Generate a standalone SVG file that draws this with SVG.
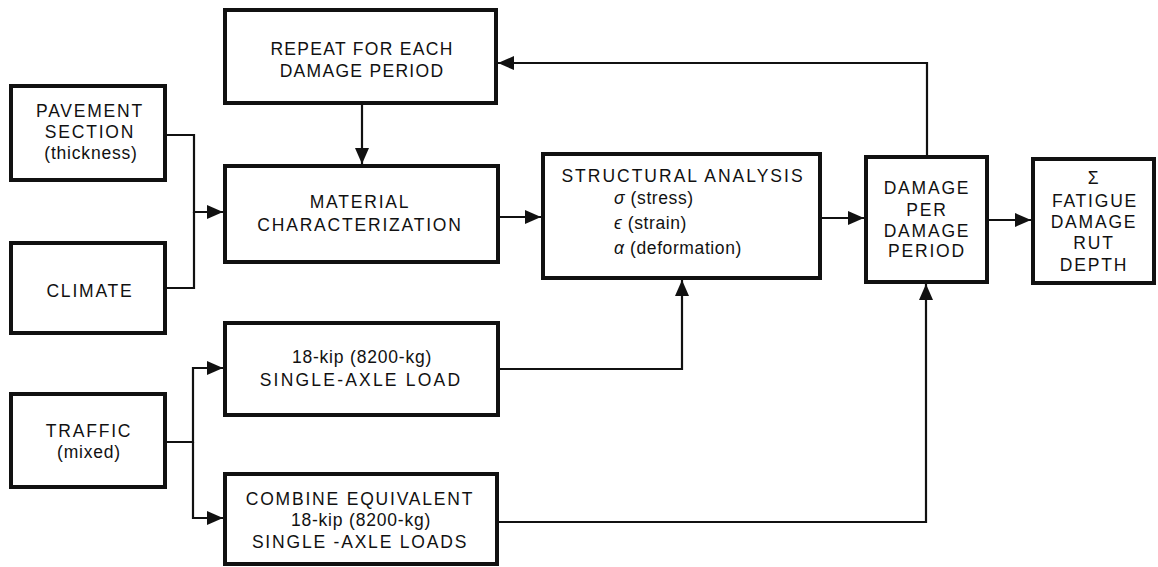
<svg xmlns="http://www.w3.org/2000/svg" width="1158" height="567" viewBox="0 0 1158 567">
<style>
.box{fill:#fff;stroke:#111;stroke-width:4}
.con{fill:none;stroke:#111;stroke-width:2.2}
text{font-family:"Liberation Sans",Arial,sans-serif;font-size:17.5px;fill:#111;letter-spacing:1.8px;text-anchor:middle}
.lc{letter-spacing:0.8px}
.st{text-anchor:start;letter-spacing:0.6px}
.gr{font-style:italic}
</style>
<defs>
<marker id="ah" markerUnits="userSpaceOnUse" markerWidth="16" markerHeight="14" viewBox="0 0 16 14" refX="16" refY="7" orient="auto">
<path d="M0,0 L16,7 L0,14 z" fill="#111"/>
</marker>
</defs>
<rect width="1158" height="567" fill="#fff"/>
<g id="connectors">
<path class="con" d="M165,135 H194 V212 H223" marker-end="url(#ah)"/>
<path class="con" d="M165,288 H194 V212"/>
<path class="con" d="M362,103 V164" marker-end="url(#ah)"/>
<path class="con" d="M498,217 H541" marker-end="url(#ah)"/>
<path class="con" d="M820,218 H864" marker-end="url(#ah)"/>
<path class="con" d="M987,220 H1031" marker-end="url(#ah)"/>
<path class="con" d="M927,157 V63 H498" marker-end="url(#ah)"/>
<path class="con" d="M165,442 H193 V368 H223" marker-end="url(#ah)"/>
<path class="con" d="M193,442 V518 H223" marker-end="url(#ah)"/>
<path class="con" d="M498,369 H682 V280" marker-end="url(#ah)"/>
<path class="con" d="M497,522 H926 V284" marker-end="url(#ah)"/>
</g>
<g id="repeat">
<rect class="box" x="225" y="10" width="271" height="93"/>
<text x="362" y="55" style="letter-spacing:1.3px">REPEAT FOR EACH</text>
<text x="362" y="77" style="letter-spacing:1.3px">DAMAGE PERIOD</text>
</g>
<g id="pavement">
<rect class="box" x="11" y="86" width="154" height="94"/>
<text x="90" y="117">PAVEMENT</text>
<text x="90" y="138">SECTION</text>
<text class="lc" x="91" y="159">(thickness)</text>
</g>
<g id="climate">
<rect class="box" x="11" y="243" width="154" height="90"/>
<text x="90" y="297">CLIMATE</text>
</g>
<g id="material">
<rect class="box" x="225" y="166" width="273" height="96"/>
<text x="360" y="208">MATERIAL</text>
<text x="360" y="231">CHARACTERIZATION</text>
</g>
<g id="structural">
<rect class="box" x="543" y="154" width="277" height="124"/>
<text x="683" y="182" style="letter-spacing:2px">STRUCTURAL ANALYSIS</text>
<text class="st" x="614" y="204"><tspan class="gr">σ</tspan> (stress)</text>
<text class="st" x="614" y="229"><tspan class="gr">ϵ</tspan> (strain)</text>
<text class="st" x="614" y="254"><tspan class="gr">α</tspan> (deformation)</text>
</g>
<g id="damage">
<rect class="box" x="866" y="157" width="121" height="125"/>
<text x="927" y="194">DAMAGE</text>
<text x="927" y="216">PER</text>
<text x="927" y="237">DAMAGE</text>
<text x="927" y="257">PERIOD</text>
</g>
<g id="sigma">
<rect class="box" x="1033" y="159" width="121" height="124"/>
<text x="1094" y="184">Σ</text>
<text x="1095" y="207">FATIGUE</text>
<text x="1094" y="228">DAMAGE</text>
<text x="1094" y="249">RUT</text>
<text x="1094" y="271">DEPTH</text>
</g>
<g id="traffic">
<rect class="box" x="11" y="394" width="154" height="93"/>
<text x="89" y="437">TRAFFIC</text>
<text class="lc" x="89" y="458">(mixed)</text>
</g>
<g id="kip">
<rect class="box" x="225" y="323" width="273" height="92"/>
<text class="lc" x="362" y="363">18-kip (8200-kg)</text>
<text x="361" y="386" style="letter-spacing:2.2px">SINGLE-AXLE LOAD</text>
</g>
<g id="combine">
<rect class="box" x="225" y="474" width="272" height="90"/>
<text x="360" y="505">COMBINE EQUIVALENT</text>
<text class="lc" x="361" y="526">18-kip (8200-kg)</text>
<text x="360" y="548">SINGLE -AXLE LOADS</text>
</g>
</svg>
